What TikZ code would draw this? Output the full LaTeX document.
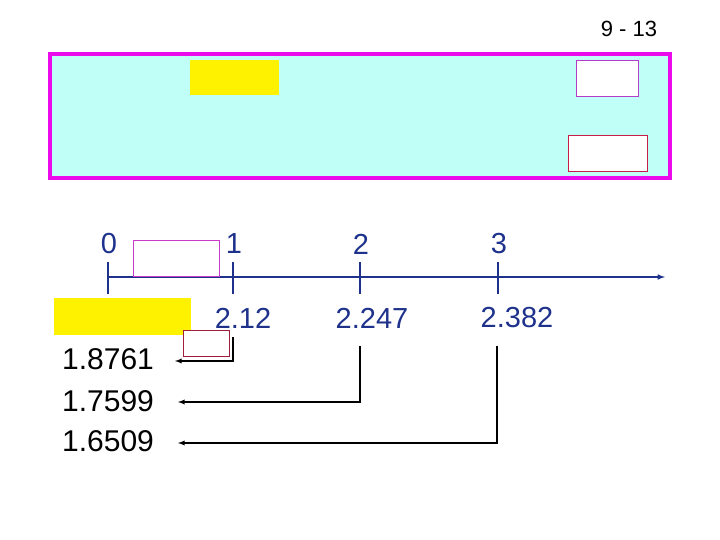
\documentclass[tikz,border=0pt]{standalone}
\usepackage{fontspec}
\setmainfont{Liberation Sans}
\begin{document}
\begin{tikzpicture}[x=1pt,y=-1pt,
  blu/.style={text=axblue,font=\fontsize{29}{29}\selectfont},
  blk/.style={text=black,font=\fontsize{30}{30}\selectfont},
  conn/.style={black,line width=1.3pt,-latex}]
\definecolor{axblue}{RGB}{30,50,140}
\definecolor{cyanbg}{RGB}{192,255,248}
\definecolor{mag}{RGB}{235,10,235}
\useasboundingbox (0,0) rectangle (720,540);
\node (pg) at (629,29) {\fontsize{22}{22}\selectfont 9 - 13};
\draw[mag,line width=4pt,fill=cyanbg] (50,54) rectangle (670,178);
\fill[yellow] (190,60) rectangle (279,95);
\draw[draw={rgb,255:red,180;green,60;blue,200},fill=white] (576,60) rectangle (638,96);
\draw[draw={rgb,255:red,200;green,30;blue,70},fill=white] (568,135) rectangle (647,171);
% axis
\coordinate (a0) at (108,277);
\coordinate (aend) at (665,277);
\draw[axblue,line width=1.5pt,-latex] (a0) -- (aend);
\foreach \x/\l in {108/0,233/1,360/2,498/3}{
  \draw[axblue,line width=1.5pt] (\x,262) -- (\x,294);
  \node[blu] (n\l) at (\x+1,244) {\l};}
\draw[draw={rgb,255:red,200;green,60;blue,200},fill=white] (133,240) rectangle (219,276);
\fill[yellow] (54,298) rectangle (191,335);
\node[blu] (t1) at (243,318) {2.12};
\node[blu] (t2) at (372,318) {2.247};
\node[blu] (t3) at (517,318) {2.382};
\node[blk] (v1) at (108,359) {1.8761};
\node[blk] (v2) at (108,401) {1.7599};
\node[blk] (v3) at (108,441) {1.6509};
\coordinate (c1) at (233,361);
\coordinate (c2) at (360,402);
\coordinate (c3) at (497,443);
\coordinate (e1) at (175,361);
\coordinate (e2) at (178,402);
\coordinate (e3) at (178,443);
\draw[conn] (233,337) -- (c1) -- (e1);
\draw[conn] (360,346) -- (c2) -- (e2);
\draw[conn] (497,346) -- (c3) -- (e3);
\draw[draw={rgb,255:red,160;green,30;blue,60},fill=white] (183,330) rectangle (229,356);
\end{tikzpicture}
\end{document}
